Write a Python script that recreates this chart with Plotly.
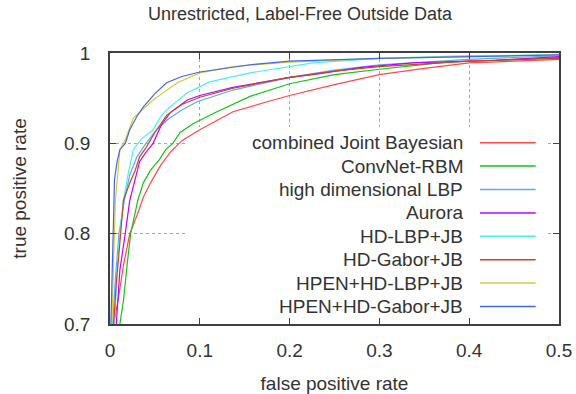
import plotly.graph_objects as go

# ---- data ----
names = ["combined Joint Bayesian", "ConvNet-RBM", "high dimensional LBP", "Aurora",
         "HD-LBP+JB", "HD-Gabor+JB", "HPEN+HD-LBP+JB", "HPEN+HD-Gabor+JB"]
colors = ["#ff4848", "#18c018", "#5ea8f8", "#c000ff",
          "#48f0f0", "#c44c1c", "#d4cc3c", "#4468e4"]

fpr_cjb = [0.004, 0.009, 0.015, 0.022, 0.030, 0.037, 0.045, 0.056, 0.067, 0.080, 0.100, 0.120, 0.137, 0.175, 0.200, 0.250, 0.300, 0.350, 0.400, 0.450, 0.500]
tpr_cjb = [0.700, 0.726, 0.765, 0.800, 0.820, 0.840, 0.856, 0.875, 0.890, 0.903, 0.915, 0.926, 0.935, 0.946, 0.953, 0.965, 0.976, 0.983, 0.989, 0.991, 0.993]

fpr_rbm = [0.011, 0.015, 0.019, 0.023, 0.031, 0.037, 0.045, 0.055, 0.062, 0.070, 0.078, 0.093, 0.119, 0.156, 0.200, 0.250, 0.300, 0.375, 0.430, 0.500]
tpr_rbm = [0.700, 0.726, 0.765, 0.800, 0.837, 0.856, 0.870, 0.882, 0.893, 0.900, 0.912, 0.922, 0.935, 0.952, 0.966, 0.976, 0.982, 0.990, 0.992, 0.995]

fpr_hdlbp = [0.003, 0.006, 0.010, 0.016, 0.022, 0.030, 0.040, 0.052, 0.065, 0.080, 0.097, 0.137, 0.200, 0.250, 0.300, 0.400, 0.500]
tpr_hdlbp = [0.700, 0.750, 0.800, 0.837, 0.865, 0.885, 0.900, 0.915, 0.927, 0.937, 0.946, 0.959, 0.973, 0.981, 0.987, 0.993, 0.997]

fpr_aurora = [0.007, 0.011, 0.017, 0.022, 0.028, 0.033, 0.040, 0.048, 0.057, 0.067, 0.086, 0.100, 0.137, 0.200, 0.226, 0.280, 0.337, 0.430, 0.500]
tpr_aurora = [0.700, 0.760, 0.800, 0.837, 0.860, 0.880, 0.890, 0.900, 0.920, 0.934, 0.948, 0.953, 0.962, 0.973, 0.976, 0.984, 0.989, 0.992, 0.996]

fpr_lbpjb = [0.005, 0.008, 0.011, 0.015, 0.020, 0.026, 0.035, 0.048, 0.056, 0.063, 0.086, 0.111, 0.156, 0.200, 0.226, 0.300, 0.400, 0.500]
tpr_lbpjb = [0.700, 0.760, 0.800, 0.837, 0.865, 0.893, 0.905, 0.915, 0.929, 0.937, 0.956, 0.968, 0.978, 0.985, 0.989, 0.994, 0.997, 0.998]

fpr_gabjb = [0.004, 0.007, 0.011, 0.015, 0.022, 0.028, 0.033, 0.040, 0.050, 0.063, 0.080, 0.100, 0.137, 0.200, 0.250, 0.300, 0.400, 0.500]
tpr_gabjb = [0.700, 0.745, 0.790, 0.837, 0.856, 0.870, 0.885, 0.895, 0.912, 0.931, 0.943, 0.951, 0.961, 0.973, 0.980, 0.985, 0.991, 0.994]

fpr_hpen_lbp = [0.002, 0.004, 0.006, 0.009, 0.011, 0.017, 0.026, 0.048, 0.075, 0.100, 0.137, 0.200, 0.300, 0.400, 0.500]
tpr_hpen_lbp = [0.700, 0.760, 0.837, 0.870, 0.893, 0.904, 0.928, 0.948, 0.967, 0.978, 0.985, 0.990, 0.994, 0.996, 0.998]

fpr_hpen_gab = [0.001, 0.003, 0.005, 0.008, 0.011, 0.017, 0.022, 0.030, 0.037, 0.050, 0.063, 0.080, 0.100, 0.156, 0.200, 0.300, 0.400, 0.500]
tpr_hpen_gab = [0.700, 0.800, 0.860, 0.880, 0.893, 0.900, 0.915, 0.930, 0.940, 0.955, 0.967, 0.974, 0.979, 0.987, 0.991, 0.994, 0.996, 0.998]

xs = [fpr_cjb, fpr_rbm, fpr_hdlbp, fpr_aurora, fpr_lbpjb, fpr_gabjb, fpr_hpen_lbp, fpr_hpen_gab]
ys = [tpr_cjb, tpr_rbm, tpr_hdlbp, tpr_aurora, tpr_lbpjb, tpr_gabjb, tpr_hpen_lbp, tpr_hpen_gab]

x_ticks = [0, 0.1, 0.2, 0.3, 0.4, 0.5]
x_labels = ["0", "0.1", "0.2", "0.3", "0.4", "0.5"]
y_ticks = [0.7, 0.8, 0.9, 1.0]
y_labels = ["0.7", "0.8", "0.9", "1"]

FONT = "Liberation Sans, Arial, sans-serif"
TXT = "#333333"

fig = go.Figure()
for n, c, x, y in zip(names, colors, xs, ys):
    fig.add_trace(go.Scatter(x=x, y=y, mode="lines", name=n,
                             line=dict(color=c, width=1.2), showlegend=False))

# key (gnuplot style: text right-aligned, sample to the right), blanks grid behind it
key_top = 0.9007
key_step = 0.0259
shapes = [dict(type="rect", xref="x", yref="y", x0=0.0857, x1=0.4855, y0=0.7, y1=0.918,
               fillcolor="white", line=dict(width=0), layer="between")]
annotations = []
for i, (n, c) in enumerate(zip(names, colors)):
    yy = key_top - i * key_step
    annotations.append(dict(x=0.395, y=yy, xref="x", yref="y", text=n, showarrow=False,
                            xanchor="right", yanchor="middle",
                            font=dict(family=FONT, size=19, color=TXT)))
    shapes.append(dict(type="line", xref="x", yref="y", x0=0.412, x1=0.474, y0=yy, y1=yy,
                       line=dict(color=c, width=1.5), layer="above"))

fig.update_layout(
    width=576, height=394,
    margin=dict(l=110, r=17, t=53, b=70, autoexpand=False),
    paper_bgcolor="white", plot_bgcolor="white",
    showlegend=False,
    font=dict(family=FONT, size=19, color=TXT),
    title=dict(text="Unrestricted, Label-Free Outside Data", x=300 / 576, xanchor="center",
               y=1 - 14 / 394, yanchor="middle", font=dict(family=FONT, size=18, color=TXT)),
    shapes=shapes,
    annotations=annotations,
)
fig.update_xaxes(range=[0, 0.5], tickvals=x_ticks, ticktext=x_labels, automargin=False,
                 showline=True, linecolor="#404040", linewidth=1.5, mirror="ticks",
                 ticks="inside", ticklen=6, tickcolor="#404040", tickwidth=1.2,
                 showgrid=True, gridcolor="#a8a8a8", griddash="dot", gridwidth=1,
                 zeroline=False, ticklabelstandoff=8,
                 title=dict(text="false positive rate", standoff=18,
                            font=dict(family=FONT, size=19, color=TXT)))
fig.update_yaxes(range=[0.7, 1.0], tickvals=y_ticks, ticktext=y_labels, automargin=False,
                 showline=True, linecolor="#404040", linewidth=1.5, mirror="ticks",
                 ticks="inside", ticklen=6, tickcolor="#404040", tickwidth=1.2,
                 showgrid=True, gridcolor="#a8a8a8", griddash="dot", gridwidth=1,
                 zeroline=False, ticklabelstandoff=14,
                 title=dict(text="true positive rate", standoff=32,
                            font=dict(family=FONT, size=19, color=TXT)))

fig.write_html("out.html")
